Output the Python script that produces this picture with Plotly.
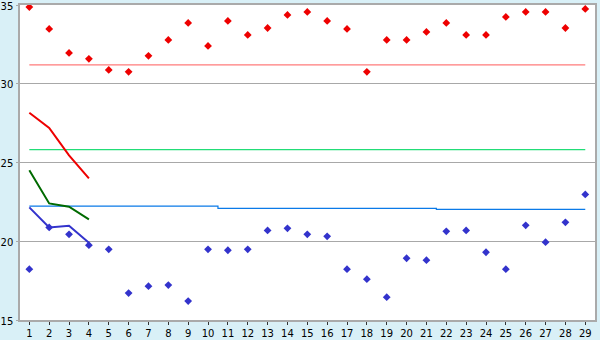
import plotly.graph_objects as go

days = list(range(1, 30))
high = [34.87, 33.48, 31.96, 31.58, 30.88, 30.76, 31.77, 32.78, 33.86, 32.40,
        33.99, 33.10, 33.54, 34.37, 34.56, 33.99, 33.48, 30.76, 32.78, 32.78,
        33.29, 33.86, 33.10, 33.10, 34.24, 34.56, 34.56, 33.54, 34.75]
low = [18.23, 20.88, 20.44, 19.75, 19.49, 16.71, 17.15, 17.22, 16.20, 19.49,
       19.43, 19.49, 20.69, 20.82, 20.44, 20.31, 18.23, 17.59, 16.45, 18.92,
       18.80, 20.63, 20.69, 19.30, 18.23, 21.01, 19.94, 21.20, 22.97]
avg_high = 31.20
avg_mid = 25.82
ref_blue = [22.23]*10 + [22.09]*11 + [22.03]*8

trend_days = [1, 2, 3, 4]
trend_red = [28.16, 27.20, 25.45, 23.99]
trend_green = [24.51, 22.40, 22.19, 21.39]
trend_blue = [22.15, 20.88, 20.99, 19.91]

fig = go.Figure()
fig.add_trace(go.Scatter(x=[days[0], days[-1]], y=[avg_high, avg_high], mode="lines",
                         line=dict(color="#ff7b7b", width=1.2), hoverinfo="skip"))
fig.add_trace(go.Scatter(x=[days[0], days[-1]], y=[avg_mid, avg_mid], mode="lines",
                         line=dict(color="#22dd77", width=1.2), hoverinfo="skip"))
fig.add_trace(go.Scatter(x=days, y=ref_blue, mode="lines", line_shape="hvh",
                         line=dict(color="#0a7ae8", width=1.2), hoverinfo="skip"))
fig.add_trace(go.Scatter(x=trend_days, y=trend_red, mode="lines",
                         line=dict(color="#ee0000", width=2)))
fig.add_trace(go.Scatter(x=trend_days, y=trend_green, mode="lines",
                         line=dict(color="#006a00", width=2)))
fig.add_trace(go.Scatter(x=trend_days, y=trend_blue, mode="lines",
                         line=dict(color="#3333cc", width=2)))
fig.add_trace(go.Scatter(x=days, y=high, mode="markers",
                         marker=dict(symbol="diamond", size=6, color="#ee0000")))
fig.add_trace(go.Scatter(x=days, y=low, mode="markers",
                         marker=dict(symbol="diamond", size=6, color="#3333cc")))

fig.update_layout(
    width=600, height=340,
    margin=dict(l=20, r=5, t=5, b=20),
    paper_bgcolor="#d9f0f7", plot_bgcolor="#ffffff",
    showlegend=False,
    font=dict(family="DejaVu Sans", size=10, color="#000000"),
)
fig.update_xaxes(range=[0.53, 29.49], tickmode="array", tickvals=days,
                 showgrid=False, zeroline=False, showline=True, mirror=True,
                 linecolor="#aaaaaa", linewidth=1.5, ticks="outside", ticklen=3,
                 tickcolor="#333333", tickfont=dict(size=10),
                 ticklabelstandoff=0, ticklabeloverflow="allow", automargin=False)
fig.update_yaxes(range=[15, 35], tickmode="array", tickvals=[15, 20, 25, 30, 35],
                 showgrid=True, gridcolor="#a8a8a8", gridwidth=1.2, zeroline=False,
                 showline=True, mirror=True, linecolor="#aaaaaa", linewidth=1.5,
                 ticks="outside", ticklen=2, tickcolor="#aaaaaa", tickfont=dict(size=10),
                 ticklabeloverflow="allow", ticklabelstandoff=1, ticklabelshift=1,
                 automargin=False)

fig.write_html("out.html")
